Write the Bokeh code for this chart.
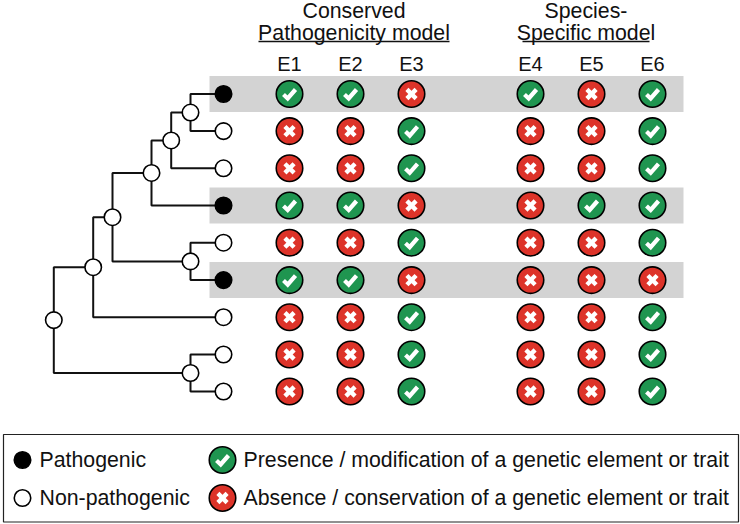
from bokeh.plotting import figure
from bokeh.models import Range1d
from bokeh.core.properties import value
from bokeh.embed import file_html
from bokeh.resources import INLINE

FONT = value("Liberation Sans")
GREEN, RED, GRAY = "#1f9550", "#dd3329", "#d3d3d3"

# Traits per taxon (row), 1 = presence, 0 = absence
columns = ["E1", "E2", "E3", "E4", "E5", "E6"]
E1 = [1, 0, 0, 1, 0, 1, 0, 0, 0]
E2 = [1, 0, 0, 1, 0, 1, 0, 0, 0]
E3 = [0, 1, 1, 0, 1, 0, 1, 1, 1]
E4 = [1, 0, 0, 0, 0, 0, 0, 0, 0]
E5 = [0, 0, 0, 1, 0, 0, 0, 0, 0]
E6 = [1, 1, 1, 1, 1, 0, 1, 1, 1]
pathogenic = [1, 0, 0, 1, 0, 1, 0, 0, 0]
legend_left = ["Pathogenic", "Non-pathogenic"]
legend_right = ["Presence / modification of a genetic element or trait",
                "Absence / conservation of a genetic element or trait"]

matrix = [E1, E2, E3, E4, E5, E6]
col_x = [289, 350, 411, 530, 591, 652]
row_y = [93.5, 130.6, 167.8, 205, 242.2, 279.6, 316.7, 354, 391]
leaf_x = 223
R = 14

p = figure(width=740, height=523, output_backend="svg", toolbar_location=None,
           x_range=Range1d(0, 740), y_range=Range1d(523, 0),
           min_border=0, outline_line_color=None, margin=(0, 0, 0, 0))
p.axis.visible = False
p.grid.visible = False
p.background_fill_color = "white"

# highlight bands
for r, f in enumerate(pathogenic):
    if f:
        p.quad(left=209, right=683, top=row_y[r] - 18, bottom=row_y[r] + 18,
               fill_color=GRAY, line_color=None)

# tree: (x position, child a, child b); children are leaf rows (int) or nested nodes
n1 = (190, 0, 1)
n2 = (170.7, n1, 2)
n3 = (151, n2, 3)
n7 = (190, 4, 5)
n4 = (112, n3, n7)
n5 = (92.7, n4, 6)
n8 = (190, 7, 8)
n6 = (53.3, n5, n8)

seg_x, seg_y, node_x, node_y = [], [], [], []


def walk(n):
    if isinstance(n, int):
        return leaf_x, row_y[n]
    x, a, b = n
    ax, ay = walk(a)
    bx, by = walk(b)
    y = (ay + by) / 2
    seg_x.append([ax, x, x, bx])
    seg_y.append([ay, ay, by, by])
    node_x.append(x)
    node_y.append(y)
    return x, y


walk(n6)
p.multi_line(seg_x, seg_y, line_color="#111111", line_width=2)
p.scatter(node_x, node_y, size=16.5, fill_color="white", line_color="black", line_width=1.6)
p.scatter([leaf_x] * 9, row_y, size=16.5,
          fill_color=["black" if f else "white" for f in pathogenic],
          line_color="black", line_width=1.6)


def badges(xs, ys, vals, r=R):
    s = r / 14
    p.scatter(xs, ys, size=2 * r - 1.5,
              fill_color=[GREEN if v else RED for v in vals],
              line_color="black", line_width=1.6)
    chk_x = [[x - 6 * s, x - 1.8 * s, x + 6 * s] for x, v in zip(xs, vals) if v]
    chk_y = [[y + 0.5 * s, y + 4.5 * s, y - 4.5 * s] for y, v in zip(ys, vals) if v]
    p.multi_line(chk_x, chk_y, line_color="white", line_width=4.2 * s, line_join="miter")
    a = 4.6 * s
    xx_x, xx_y = [], []
    for x, y, v in zip(xs, ys, vals):
        if not v:
            xx_x += [[x - a, x + a], [x - a, x + a]]
            xx_y += [[y - a, y + a], [y + a, y - a]]
    p.multi_line(xx_x, xx_y, line_color="white", line_width=4.4 * s)


xs, ys, vals = [], [], []
for cx, col in zip(col_x, matrix):
    for y, v in zip(row_y, col):
        xs.append(cx)
        ys.append(y)
        vals.append(v)
badges(xs, ys, vals)

# column headers
p.text(col_x, [63] * 6, text=columns, text_font=FONT, text_font_size="20px",
       text_align="center", text_baseline="middle", text_color="#111111")
p.text([353.5, 353.5, 585.5, 585.5], [10, 32.5, 10, 32.5],
       text=["Conserved", "Pathogenicity model", "Species-", "Specific model"],
       text_font=FONT, text_font_size="21.3px", text_align="center",
       text_baseline="middle", text_color="#111111")
p.multi_line([[258, 449], [522, 649]], [[41, 41], [41, 41]], line_color="#111111", line_width=1.3)

# legend box
p.quad(left=3, right=738, top=434, bottom=521.5, fill_color="white", line_color="#222222", line_width=1.2)
ly = [459.5, 497.5]
p.scatter([22, 22], ly, size=16.5, fill_color=["black", "white"], line_color="black", line_width=1.6)
p.text([39, 39], ly, text=legend_left, text_font=FONT, text_font_size="21.3px",
       text_baseline="middle", text_color="#111111")
badges([222, 222], ly, [1, 0], r=14)
p.text([243, 243], ly, text=legend_right, text_font=FONT, text_font_size="21.3px",
       text_baseline="middle", text_color="#111111")

open("out.html", "w").write(file_html(p, INLINE))
